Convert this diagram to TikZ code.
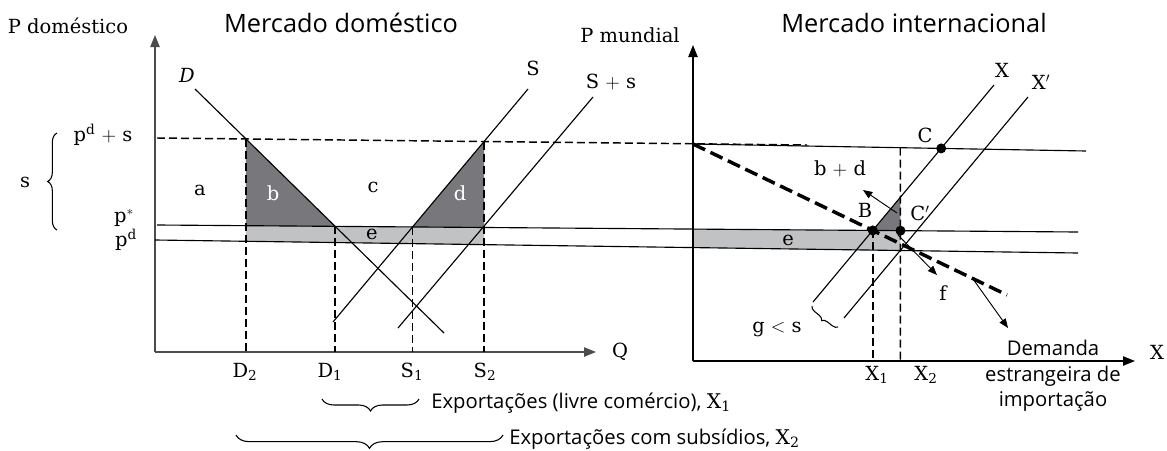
\documentclass[tikz,border=0pt]{standalone}
\usepackage{fontspec}
\setmainfont{DejaVu Serif}
\newfontfamily\sansfont{Open Sans}
\usetikzlibrary{arrows.meta,decorations.pathreplacing}
\definecolor{darkgrey}{HTML}{77777C}
\definecolor{lightgrey}{HTML}{C1C2C4}

\begin{document}
\begin{tikzpicture}[x=0.75pt,y=-0.75pt,
  lab/.style={font=\fontsize{14.6}{16}\selectfont,inner sep=0pt,anchor=base},
  heading/.style={font=\sansfont\fontsize{19}{21}\selectfont,inner sep=0pt,anchor=base},
  note/.style={font=\sansfont\fontsize{15.2}{19}\selectfont,inner sep=0pt,anchor=base west},
  thinline/.style={line width=0.85pt},
  guide/.style={line width=1.1pt,dash pattern=on 6pt off 3pt},
  demand/.style={line width=2.6pt,dash pattern=on 10pt off 4.5pt},
  axisline/.style={line width=1pt,-{Triangle[length=9pt,width=7pt]}},
  tick/.style={line width=0.7pt,-{Triangle[length=7pt,width=5.5pt]}},
  brc/.style={decorate,decoration={brace,amplitude=#1},line width=0.8pt}
]
\useasboundingbox (0,0) rectangle (1167,450);

% domestic market
\coordinate (O1) at (155,352);
\coordinate (Ytop1) at (155,35);
\coordinate (Xend1) at (596,352);
\coordinate (top0) at (157,138); \coordinate (top9) at (807,145);
\coordinate (ps0) at (157,225); \coordinate (ps9) at (1078,232);
\coordinate (pd0) at (155,240); \coordinate (pd9) at (1078,253);
\coordinate (D0) at (195,89); \coordinate (D9) at (444,333);
\coordinate (S0) at (333,322); \coordinate (S9) at (528,89);
\coordinate (Ss0) at (398,328); \coordinate (Ss9) at (593,97);

\coordinate (Dtop) at (intersection of D0--D9 and top0--top9);
\coordinate (Dps) at (intersection of D0--D9 and ps0--ps9);
\coordinate (Sps) at (intersection of S0--S9 and ps0--ps9);
\coordinate (Stop) at (intersection of S0--S9 and top0--top9);
\coordinate (D2ax) at (Dtop |- O1);
\coordinate (S2ax) at (Stop |- O1);
\coordinate (D2ps) at (intersection of ps0--ps9 and Dtop--D2ax);
\coordinate (D2pd) at (intersection of pd0--pd9 and Dtop--D2ax);
\coordinate (S2ps) at (intersection of ps0--ps9 and Stop--S2ax);
\coordinate (S2pd) at (intersection of pd0--pd9 and Stop--S2ax);

\fill[lightgrey] (D2ps) -- (S2ps) -- (S2pd) -- (D2pd) -- cycle;
\fill[darkgrey] (Dtop) -- (Dps) -- (D2ps) -- cycle;
\fill[darkgrey] (Sps) -- (Stop) -- (S2ps) -- cycle;

% international market
\coordinate (O2) at (693,361);
\coordinate (Ytop2) at (693,45);
\coordinate (Xend2) at (1135,361);
\coordinate (rt0) at (693,144); \coordinate (rt9) at (1086,151);
\coordinate (dm9) at (1007,295);
\coordinate (X0) at (813,302); \coordinate (X9) at (994,85);
\coordinate (Xp0) at (844,318); \coordinate (Xp9) at (1028,97);
\coordinate (C) at (intersection of X0--X9 and rt0--rt9);
\coordinate (B) at (intersection of X0--X9 and ps0--ps9);
\coordinate (E) at (intersection of Xp0--Xp9 and pd0--pd9);
\coordinate (X1ax) at (B |- O2);
\coordinate (X2ax) at (E |- O2);
\coordinate (X2top) at (intersection of rt0--rt9 and E--X2ax);
\coordinate (Cp) at (intersection of ps0--ps9 and E--X2ax);
\coordinate (Xv) at (intersection of X0--X9 and E--X2ax);
\coordinate (psL) at (intersection of ps0--ps9 and rt0--O2);
\coordinate (pdL) at (intersection of pd0--pd9 and rt0--O2);

\fill[lightgrey] (psL) -- (Cp) -- (E) -- (pdL) -- cycle;
\fill[darkgrey] (B) -- (Xv) -- (Cp) -- cycle;

\draw[axisline,black!70] (O1) -- (Ytop1);
\draw[axisline,black!70] (O1) -- (Xend1);
\draw[guide] (top0) -- (top9);
\draw[thinline] (ps0) -- (ps9);
\draw[thinline] (pd0) -- (pd9);
\draw[thinline] (D0) -- (D9);
\draw[thinline] (S0) -- (S9);
\draw[thinline] (Ss0) -- (Ss9);
\draw[guide] (Dtop) -- (D2ax);
\draw[guide] (Dps) -- (Dps |- O1);
\draw[guide] (Sps) -- (Sps |- O1);
\draw[guide] (Stop) -- (S2ax);

\draw[axisline] (O2) -- (Ytop2);
\draw[axisline] (O2) -- (Xend2);
\draw[thinline] (rt0) -- (rt9);
\draw[thinline] (X0) -- (X9);
\draw[thinline] (Xp0) -- (Xp9);
\draw[demand] (rt0) -- (dm9);
\draw[guide] (B) -- (X1ax);
\draw[guide] (X2top) -- (X2ax);
\fill (B) circle[radius=5];
\fill (C) circle[radius=5];
\fill (Cp) circle[radius=5];

\coordinate (bd1) at (897,213); \coordinate (bd2) at (863,190);
\coordinate (f1) at (898,235); \coordinate (f2) at (937,275);
\coordinate (dm1) at (973,279); \coordinate (dm2) at (1008,328);
\draw[tick] (bd1) -- (bd2);
\draw[tick] (f1) -- (f2);
\draw[tick] (dm1) -- (dm2);

% braces
\coordinate (sb1) at (57,230); \coordinate (sb2) at (57,133);
\coordinate (e1a) at (419,399); \coordinate (e1b) at (322,399);
\coordinate (e2a) at (503,435); \coordinate (e2b) at (236,435);
\coordinate (gb1) at (838,327); \coordinate (gb2) at (812,306);
\draw[brc=7pt] (sb1) -- (sb2);
\draw[brc=9pt] (e1a) -- (e1b);
\draw[brc=10pt] (e2a) -- (e2b);
\draw[brc=4pt] (gb1) -- (gb2);

% labels
\node[heading] (tdom) at (341,32) {Mercado doméstico};
\node[heading] (tint) at (914,32) {Mercado internacional};
\node[lab] (pdomlab) at (68,33) {P doméstico};
\node[lab] (pmunlab) at (630,42) {P mundial};
\node[lab] (Dlab) at (187,82) {\itshape D};
\node[lab] (Slab) at (533,75) {S};
\node[lab] (Sslab) at (611,88) {S $+$ s};
\node[lab] (pdslab) at (103,141) {p$^{\mathrm{d}}$ $+$ s};
\node[lab] (pslab) at (124,222) {p$^{*}$};
\node[lab] (pdlab) at (126,246) {p$^{\mathrm{d}}$};
\node[lab] (slab) at (25,187) {s};
\node[lab] (alab) at (200,195) {a};
\node[lab,white] (blab) at (273,200) {b};
\node[lab] (clab) at (373,192) {c};
\node[lab,white] (dlab) at (460,200) {d};
\node[lab] (elab) at (372,239) {e};
\node[lab] (D2lab) at (245,377) {D$_{\mathrm{2}}$};
\node[lab] (D1lab) at (330,377) {D$_{\mathrm{1}}$};
\node[lab] (S1lab) at (412,377) {S$_{\mathrm{1}}$};
\node[lab] (S2lab) at (485,377) {S$_{\mathrm{2}}$};
\node[lab] (Qlab) at (620,357) {Q};
\node[note] (exp1) at (431,408) {Exportações (livre comércio), {\rmfamily X$_{\mathrm{1}}$}};
\node[note] (exp2) at (509,444) {Exportações com subsídios, {\rmfamily X$_{\mathrm{2}}$}};

\node[lab] (Xlab) at (1002,77) {X};
\node[lab] (Xplab) at (1041,89) {X$'$};
\node[lab] (Clab) at (925,142) {C};
\node[lab] (bdlab) at (840,175) {b $+$ d};
\node[lab] (Blab) at (865,217) {B};
\node[lab] (Cplab) at (920,220) {C$'$};
\node[lab] (elab2) at (788,245) {e};
\node[lab] (flab) at (943,300) {f};
\node[lab] (gslab) at (777,332) {g $<$ s};
\node[lab] (X1lab) at (877,380) {X$_{\mathrm{1}}$};
\node[lab] (X2lab) at (926,380) {X$_{\mathrm{2}}$};
\node[lab] (Xaxlab) at (1157,359) {X};
\node[note,anchor=north,align=center] (demlab) at (1053,340) {Demanda\\estrangeira de\\importação};
\end{tikzpicture}
\end{document}
